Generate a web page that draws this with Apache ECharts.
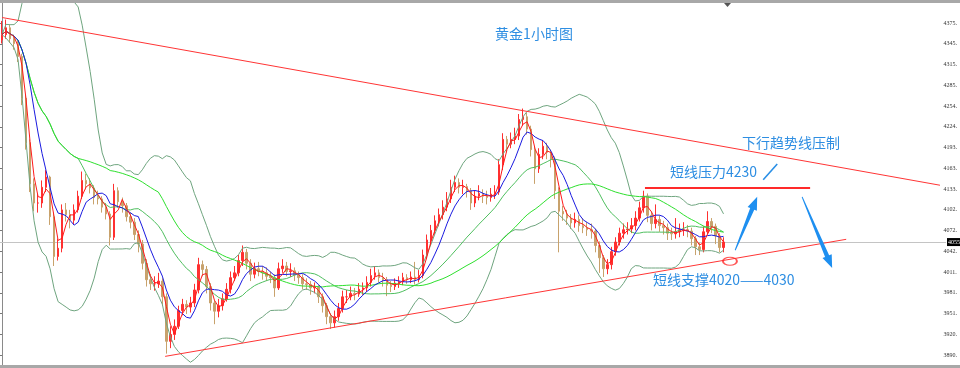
<!DOCTYPE html>
<html><head><meta charset="utf-8">
<script src="https://cdn.jsdelivr.net/npm/echarts@6/dist/echarts.min.js"></script>
<style>html,body{margin:0;padding:0;background:#fff}#c{width:960px;height:368px}</style>
</head><body><div id="c"></div><script>
// ---- data (gold, 1 hour) ----
const firstOpen = 4350;
const closes = [4358,4368,4352,4345,4326,4265,4200,4140,4112,4112,
4135,4150,4092,4034,4046,4102,4095,4087,4102,4122,
4145,4140,4134,4120,4118,4106,4096,4062,4130,4114,
4108,4092,4084,4066,4052,4024,4000,3994,3994,3998,
3975,3910,3920,3932,3955,3964,3960,3966,3985,4022,
4015,3990,3966,3954,3962,3972,3986,4003,4010,4028,
4040,4024,4008,4016,4012,4010,4005,4003,3988,4016,
4020,4012,4013,4007,4003,3994,3993,3988,3989,3975,
3962,3946,3937,3946,3958,3975,3975,3980,3979,3986,
3988,3996,4006,4010,4003,4000,3992,3990,3995,3997,
4003,4000,4004,4000,4006,4036,4058,4072,4086,4095,
4106,4118,4135,4142,4135,4136,4130,4112,4122,4126,
4122,4120,4125,4128,4168,4205,4198,4205,4210,4234,
4238,4220,4190,4162,4183,4195,4186,4176,4130,4100,
4096,4090,4083,4088,4079,4076,4073,4071,4050,4032,
4016,4022,4041,4055,4068,4073,4074,4079,4090,4105,
4122,4094,4082,4088,4079,4076,4068,4067,4070,4073,
4073,4071,4060,4048,4044,4070,4085,4078,4064,4047,
4055];
const highs = [4378,4380,4372,4358,4350,4330,4270,4205,4148,4125,
4145,4160,4152,4098,4060,4110,4112,4102,4110,4130,
4158,4155,4148,4138,4130,4122,4112,4100,4140,4135,
4120,4112,4098,4090,4072,4058,4030,4008,4005,4010,
4002,3980,3932,3942,3962,3972,3970,3975,3994,4032,
4028,4020,3995,3970,3972,3980,3995,4012,4020,4036,
4050,4045,4030,4025,4026,4020,4018,4012,4008,4025,
4030,4026,4024,4018,4012,4008,4002,3998,3996,3992,
3980,3966,3950,3955,3966,3984,3985,3990,3988,3995,
3996,4005,4016,4020,4015,4010,4004,3998,4002,4005,
4010,4008,4012,4026,4014,4044,4066,4080,4094,4104,
4116,4128,4146,4152,4148,4146,4140,4134,4130,4138,
4132,4130,4134,4138,4176,4214,4210,4215,4222,4242,
4250,4244,4225,4195,4192,4204,4200,4190,4180,4135,
4108,4102,4096,4098,4094,4090,4084,4082,4075,4056,
4036,4030,4048,4062,4076,4082,4084,4090,4100,4114,
4130,4126,4100,4110,4094,4086,4082,4076,4090,4082,
4084,4080,4076,4064,4054,4078,4100,4090,4082,4068,
4062];
const lows = [4345,4352,4346,4336,4318,4255,4190,4128,4100,4098,
4105,4128,4080,4020,4028,4040,4085,4075,4080,4098,
4118,4132,4126,4110,4110,4098,4088,4050,4058,4105,
4098,4085,4075,4058,4040,4015,3990,3985,3984,3988,
3962,3892,3900,3912,3928,3948,3950,3952,3960,3980,
4005,3980,3955,3935,3945,3955,3968,3980,3998,4005,
4020,4015,3998,4002,4005,4000,3998,3995,3975,3985,
4010,4005,4004,3998,3994,3986,3985,3978,3980,3966,
3952,3935,3928,3930,3940,3952,3966,3970,3970,3975,
3978,3982,3990,4000,3996,3990,3976,3982,3985,3988,
3992,3994,3995,3993,3996,4002,4030,4050,4066,4078,
4088,4100,4112,4128,4126,4125,4120,4102,4106,4116,
4112,4110,4114,4118,4124,4160,4186,4192,4198,4204,
4225,4212,4180,4140,4156,4176,4176,4164,4118,4040,
4086,4080,4074,4076,4070,4068,4064,4060,4040,4010,
4004,4008,4015,4035,4050,4060,4066,4068,4072,4085,
4098,4084,4072,4075,4070,4066,4058,4058,4060,4062,
4064,4062,4050,4036,4036,4040,4066,4068,4052,4040,
4040];
const tickLabels = ['3890.','3920.','3951.','3981.','4011.','4042.','4072.','4102.','4133.','4163.','4193.','4224.','4254.','4285.','4315.','4345.','4375.'];
const lastPrice = 4055;
const slotCount = 236;            // bar slots across the chart (right part left empty)
const upperTrend = [[0, 4383], [234, 4138]];
const lowerTrend = [[40.7, 3888], [210.6, 4059]];
const resistance = [[160.4, 4134], [201.6, 4134]];
const supportMark = [181.6, 4027];
const arrowTick = [189.9, 4146, 193.4, 4169];
const arrowUp = [182.9, 4043, 188.4, 4121];
const arrowDown = [199.6, 4121, 207.1, 4017];
const titleText = '黄金1小时图';
const noteTrend = '下行趋势线压制';
const noteResist = '短线压力4230';
const noteSupport = '短线支撑4020——4030';

// ---- build ----
const cats = Array.from({length: slotCount}, (_, i) => String(i));
const candles = closes.map((c, i) => [i === 0 ? firstOpen : closes[i - 1], c, lows[i], highs[i]]);
function ma(n) {
  return closes.map((_, i) => {
    const w = closes.slice(Math.max(0, i - n + 1), i + 1);
    return +(w.reduce((a, b) => a + b, 0) / w.length).toFixed(2);
  });
}
function boll(n, k) {
  const up = [], mid = [], dn = [];
  closes.forEach((_, i) => {
    const w = closes.slice(Math.max(0, i - n + 1), i + 1);
    const m = w.reduce((a, b) => a + b, 0) / w.length;
    const sd = Math.sqrt(w.reduce((a, b) => a + (b - m) * (b - m), 0) / w.length);
    up.push(+(m + k * sd).toFixed(2)); mid.push(+m.toFixed(2)); dn.push(+(m - k * sd).toFixed(2));
  });
  return {up, mid, dn};
}
const bb = boll(20, 2);
const BLUE = '#2e8ee2';

function renderArrow(params, api) {
  const p0 = api.coord([api.value(0), api.value(1)]);
  const p1 = api.coord([api.value(2), api.value(3)]);
  const kind = api.value(4);
  if (kind === 0) {
    return {type: 'line', shape: {x1: p0[0], y1: p0[1], x2: p1[0], y2: p1[1]},
      style: {stroke: '#2a8fe6', lineWidth: 1.6}};
  }
  const dx = p1[0] - p0[0], dy = p1[1] - p0[1], L = Math.hypot(dx, dy);
  const ux = dx / L, uy = dy / L, nx = -uy, ny = ux;
  const hl = 13, hw = 5, sw = 2.2, tw = 0.5;
  const bx = p1[0] - ux * hl, by = p1[1] - uy * hl;
  const pts = [[p0[0] + nx * tw, p0[1] + ny * tw], [bx + nx * sw, by + ny * sw], [bx + nx * hw, by + ny * hw],
    [p1[0], p1[1]], [bx - nx * hw, by - ny * hw], [bx - nx * sw, by - ny * sw], [p0[0] - nx * tw, p0[1] - ny * tw]];
  return {type: 'polygon', shape: {points: pts}, style: {fill: '#1e8ff0'}};
}

const chart = echarts.init(document.getElementById('c'), null, {renderer: 'canvas'});
const lineS = (data, color, z) => ({type: 'line', data, xAxisIndex: 0, yAxisIndex: 0, showSymbol: false,
  symbol: 'none', silent: true, lineStyle: {color, width: 1}, z: z || 3});
const txt = (t, x, y, align) => ({type: 'text', x, y, silent: true, z: 50,
  style: {text: t, fill: BLUE, fontSize: 14, fontFamily: '"Noto Sans CJK SC", sans-serif', align: align || 'left', verticalAlign: 'middle'}});

chart.setOption({
  animation: false,
  backgroundColor: '#fff',
  grid: [
    {left: 0, right: 14, top: 3, bottom: 3},
    {left: 0, right: 14, top: 23, bottom: 13}
  ],
  xAxis: [
    {type: 'category', gridIndex: 0, data: cats, boundaryGap: true, show: false},
    {type: 'value', gridIndex: 0, min: -0.5, max: slotCount - 0.5, show: false},
    {type: 'value', gridIndex: 1, min: 0, max: 1, show: false}
  ],
  yAxis: [
    {type: 'value', gridIndex: 0, min: 3875.4, max: 4404.2, position: 'right',
      axisLine: {show: true, lineStyle: {color: '#8a8a8a', width: 1}}, axisTick: {show: false},
      axisLabel: {show: false}, splitLine: {show: false}},
    {type: 'value', gridIndex: 1, min: 0, max: 16, interval: 1, position: 'right',
      axisLine: {show: false}, axisTick: {show: true, length: 2, lineStyle: {color: '#777'}},
      axisLabel: {show: true, margin: 1, fontSize: 6, color: '#333', fontFamily: 'Liberation Serif',
        formatter: v => tickLabels[Math.round(v)] || ''},
      splitLine: {show: false}}
  ],
  graphic: [
    {type: 'rect', shape: {x: 0, y: 0, width: 960, height: 3}, style: {fill: '#a8a8a8'}, z: 60, silent: true},
    {type: 'rect', shape: {x: 0, y: 365, width: 960, height: 3}, style: {fill: '#a8a8a8'}, z: 60, silent: true},
    {type: 'polygon', shape: {points: [[724, 3], [731, 3], [727.5, 7]]}, style: {fill: '#555'}, z: 60, silent: true},
    txt(titleText, 534, 34, 'center'),
    txt(noteTrend, 742, 143),
    txt(noteResist, 670, 172),
    txt(noteSupport, 653, 280)
  ],
  series: [
    {type: 'candlestick', name: 'XAUUSD', xAxisIndex: 0, yAxisIndex: 0, data: candles, barWidth: 2, z: 2,
      itemStyle: {color: '#ff3030', color0: '#c8a26c', borderColor: '#ff3030', borderColor0: '#c8a26c', borderWidth: 1},
      markLine: {silent: true, symbol: 'none', z: 1,
        lineStyle: {color: '#c4c4c4', width: 1, type: 'solid'},
        label: {show: true, position: 'end', distance: 1, formatter: () => lastPrice + '.', color: '#fff',
          backgroundColor: '#000', fontSize: 6, padding: [1, 1], fontFamily: 'Liberation Serif'},
        data: [{yAxis: lastPrice}]}},
    lineS(bb.up, '#6fa57f'),
    lineS(bb.dn, '#6fa57f'),
    lineS(bb.mid, '#4fbf5f'),
    lineS(ma(40), '#2ee02e'),
    lineS(ma(7), '#1a1ae0', 4),
    lineS(ma(3), '#ff1a1a', 5),
    {type: 'lines', coordinateSystem: 'cartesian2d', xAxisIndex: 1, yAxisIndex: 0, silent: true, z: 6,
      lineStyle: {color: '#ff3535', width: 1, opacity: 1},
      data: [{coords: upperTrend}, {coords: lowerTrend}]},
    {type: 'lines', coordinateSystem: 'cartesian2d', xAxisIndex: 1, yAxisIndex: 0, silent: true, z: 6,
      lineStyle: {color: '#ff2a2a', width: 2, opacity: 1},
      data: [{coords: resistance}]},
    {type: 'scatter', xAxisIndex: 1, yAxisIndex: 0, silent: true, z: 7, data: [supportMark],
      symbol: 'circle', symbolSize: [14, 8],
      itemStyle: {color: 'rgba(255,255,255,0)', borderColor: '#ff2a2a', borderWidth: 1.5}},
    {type: 'custom', xAxisIndex: 1, yAxisIndex: 0, silent: true, z: 8, renderItem: renderArrow,
      encode: {x: [0, 2], y: [1, 3]},
      data: [arrowTick.concat([0]), arrowUp.concat([1]), arrowDown.concat([1])]},
    {type: 'scatter', xAxisIndex: 2, yAxisIndex: 1, data: [], silent: true}
  ]
});
</script></body></html>
